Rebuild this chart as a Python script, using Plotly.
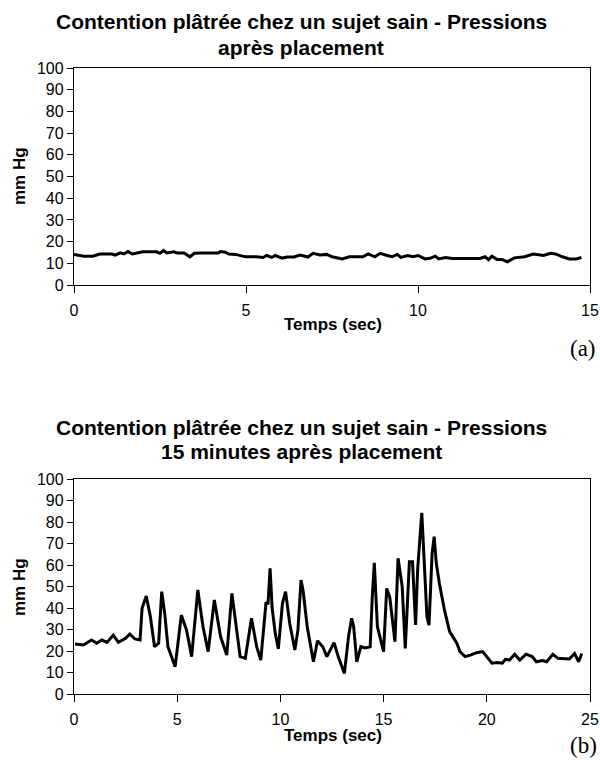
import plotly.graph_objects as go

# Chart (a): pressure just after placement
t_a = [0.0, 0.3, 0.55, 0.75, 1.1, 1.2, 1.34, 1.45, 1.57, 1.7, 2.0, 2.4, 2.5, 2.6, 2.7, 2.9, 3.0, 3.2,
       3.37, 3.5, 3.7, 4.2, 4.25, 4.4, 4.5, 4.7, 4.9, 5.0, 5.3, 5.4, 5.5, 5.6, 5.75, 5.85, 6.05, 6.2,
       6.4, 6.57, 6.8, 6.95, 7.15, 7.35, 7.5, 7.8, 8.0, 8.4, 8.55, 8.75, 8.9, 9.1, 9.25, 9.4, 9.5,
       9.7, 9.85, 10.0, 10.2, 10.35, 10.5, 10.6, 10.8, 11.0, 11.8, 11.95, 12.05, 12.15, 12.3, 12.45,
       12.6, 12.8, 12.95, 13.1, 13.35, 13.5, 13.65, 13.85, 14.0, 14.2, 14.4, 14.6, 14.75]
p_a = [14.1, 13.3, 13.3, 14.3, 14.3, 13.8, 14.8, 14.3, 15.4, 14.3, 15.3, 15.3, 14.6, 15.9, 14.8, 15.3,
       14.8, 14.8, 13.0, 14.6, 14.8, 14.8, 15.4, 15.1, 14.3, 14.1, 13.3, 13.0, 13.0, 12.7, 12.7, 13.6,
       12.7, 13.6, 12.4, 12.9, 12.9, 13.8, 12.9, 14.6, 13.8, 14.1, 13.0, 12.0, 13.0, 13.0, 14.3, 13.0,
       14.6, 13.6, 13.0, 14.1, 12.7, 13.6, 13.0, 13.6, 12.0, 12.3, 13.3, 12.0, 12.7, 12.2, 12.2, 13.0,
       11.7, 13.3, 11.7, 11.7, 10.7, 12.5, 12.7, 13.0, 14.3, 13.8, 13.6, 14.6, 14.3, 13.0, 12.0, 12.0,
       12.7]

# Chart (b): pressure 15 minutes after placement
t_b = [0.05, 0.45, 0.85, 1.1, 1.35, 1.6, 1.9, 2.15, 2.5, 2.7, 2.95, 3.2, 3.3, 3.5, 3.7, 3.9, 4.1,
       4.25, 4.4, 4.55, 4.9, 5.2, 5.45, 5.7, 6.0, 6.25, 6.5, 6.8, 7.1, 7.4, 7.65, 7.9, 8.05, 8.3,
       8.6, 8.85, 9.05, 9.3, 9.4, 9.5, 9.6, 9.75, 9.9, 10.1, 10.25, 10.45, 10.7, 10.85, 11.0, 11.1,
       11.3, 11.6, 11.8, 12.05, 12.25, 12.6, 12.8, 13.1, 13.3, 13.45, 13.55, 13.7, 13.9, 14.1, 14.35,
       14.45, 14.55, 14.7, 15.0, 15.15, 15.3, 15.55, 15.7, 15.9, 16.05, 16.25, 16.4, 16.55, 16.65,
       16.85, 16.95, 17.1, 17.2, 17.35, 17.45, 17.55, 17.7, 17.95, 18.2, 18.55, 18.7, 18.95, 19.2,
       19.5, 19.8, 20.0, 20.25, 20.5, 20.75, 20.9, 21.1, 21.35, 21.6, 21.9, 22.2, 22.4, 22.7, 22.9,
       23.2, 23.45, 23.9, 24.0, 24.25, 24.45, 24.6]
p_b = [23.3, 22.8, 25.1, 23.6, 25.1, 24.0, 27.4, 24.0, 25.9, 27.9, 25.6, 25.1, 40.0, 45.6, 36.0, 22.0,
       23.6, 47.6, 37.0, 22.0, 12.7, 36.7, 29.8, 17.4, 48.4, 31.3, 19.7, 43.7, 26.7, 18.1, 46.8, 29.8,
       17.4, 16.6, 35.2, 22.0, 15.8, 42.2, 42.2, 58.5, 40.0, 28.2, 21.0, 42.2, 47.6, 32.9, 20.5, 29.8,
       53.0, 48.0, 31.3, 15.0, 24.8, 22.0, 17.4, 23.9, 17.4, 9.6, 26.7, 35.2, 31.3, 15.0, 22.0, 21.4,
       22.0, 45.0, 61.0, 31.3, 19.7, 49.1, 45.0, 24.3, 63.1, 50.0, 21.2, 61.5, 61.5, 32.1, 58.0, 84.3,
       65.0, 36.0, 32.0, 65.4, 73.2, 61.0, 51.5, 39.0, 29.0, 23.6, 19.7, 17.4, 18.1, 19.2, 19.7, 17.4,
       14.3, 14.6, 14.3, 16.1, 15.8, 18.5, 15.8, 18.5, 17.4, 15.0, 15.6, 15.0, 18.5, 16.6, 16.6, 16.3,
       18.8, 15.0, 18.8]

title_a = ["Contention plâtrée chez un sujet sain - Pressions", "après placement"]
title_b = ["Contention plâtrée chez un sujet sain - Pressions", "15 minutes après placement"]
x_title = "Temps (sec)"
y_title = "mm Hg"
labels = ["(a)", "(b)"]
y_ticks = list(range(0, 101, 10))
x_ticks_a = [0, 5, 10, 15]
x_ticks_b = [0, 5, 10, 15, 20, 25]

W, H = 600, 760
L, R = 74, 10


def py(page_y):
    return 1 - page_y / H


def px_x(page_x):
    return (page_x - L) / (W - L - R)


fig = go.Figure()
line = dict(color="black", width=3)
fig.add_trace(go.Scatter(x=t_a, y=p_a, mode="lines", line=line, xaxis="x", yaxis="y",
                         showlegend=False, hoverinfo="skip"))
fig.add_trace(go.Scatter(x=t_b, y=p_b, mode="lines", line=line, xaxis="x2", yaxis="y2",
                         showlegend=False, hoverinfo="skip"))

tickfont = dict(family="Liberation Sans, Arial", size=16, color="black")
axcommon = dict(showgrid=False, zeroline=False, showline=True, linecolor="black", linewidth=1.4,
                mirror=True, ticks="outside", tickcolor="black", tickwidth=1.4,
                tickfont=tickfont, automargin=False)
xcommon = dict(ticklen=7, ticklabelstandoff=4, **axcommon)
ycommon = dict(ticklen=6, **axcommon)

fig.update_layout(
    width=W, height=H,
    margin=dict(l=L, r=R, t=0, b=0, pad=0),
    paper_bgcolor="white", plot_bgcolor="white",
    xaxis=dict(domain=[0, 1], anchor="y", range=[0, 15], tickvals=x_ticks_a, **xcommon),
    yaxis=dict(domain=[py(285), py(68)], anchor="x", range=[0, 100], tickvals=y_ticks, **ycommon),
    xaxis2=dict(domain=[0, 1], anchor="y2", range=[0, 25], tickvals=x_ticks_b, **xcommon),
    yaxis2=dict(domain=[py(694), py(479)], anchor="x2", range=[0, 100], tickvals=y_ticks, **ycommon),
)

ann = []
tfont = dict(family="Liberation Sans, Arial", size=21, color="black")
for txt, y in [(title_a[0], 22), (title_a[1], 48), (title_b[0], 427), (title_b[1], 451)]:
    ann.append(dict(text="<b>%s</b>" % txt, x=px_x(301), y=py(y), xref="paper", yref="paper",
                    xanchor="center", yanchor="middle", showarrow=False, font=tfont))
lfont = dict(family="Liberation Sans, Arial", size=17, color="black")
for y in [324, 735]:
    ann.append(dict(text="<b>%s</b>" % x_title, x=px_x(333), y=py(y), xref="paper", yref="paper",
                    xanchor="center", yanchor="middle", showarrow=False, font=lfont))
for y in [176, 587]:
    ann.append(dict(text="<b>%s</b>" % y_title, x=px_x(19), y=py(y), xref="paper", yref="paper",
                    xanchor="center", yanchor="middle", showarrow=False, font=lfont, textangle=-90))
sfont = dict(family="Liberation Serif, Times New Roman", size=23, color="black")
for txt, y in zip(labels, [348, 745]):
    ann.append(dict(text=txt, x=px_x(583), y=py(y), xref="paper", yref="paper",
                    xanchor="center", yanchor="middle", showarrow=False, font=sfont))
fig.update_layout(annotations=ann)

fig.write_html("out.html", config={"displayModeBar": False},
               post_script="document.body.style.margin='0px';document.body.style.overflow='hidden';")
